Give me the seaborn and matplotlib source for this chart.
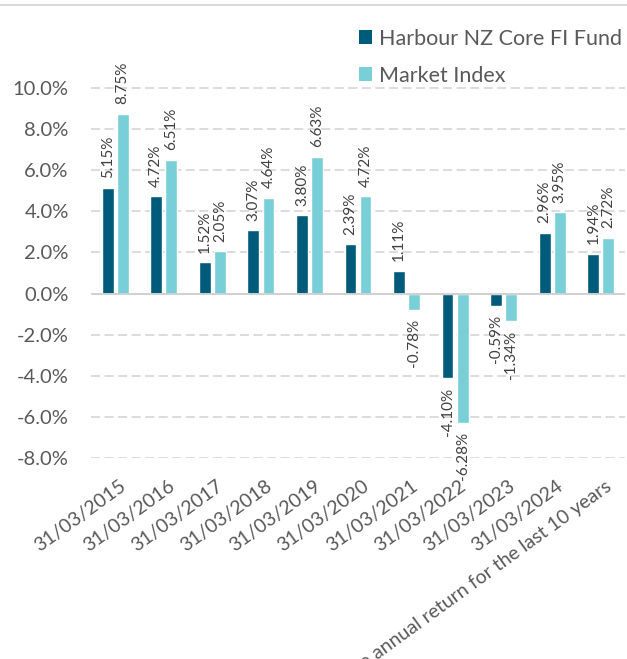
import numpy as np
import pandas as pd
import matplotlib
matplotlib.use("Agg")
import matplotlib.pyplot as plt
from matplotlib.patches import Patch
from matplotlib.lines import Line2D
import matplotlib.transforms as mtransforms
import seaborn as sns

categories = ['31/03/2015', '31/03/2016', '31/03/2017', '31/03/2018', '31/03/2019',
              '31/03/2020', '31/03/2021', '31/03/2022', '31/03/2023', '31/03/2024',
              'Average annual return for the last 10 years']
fund = [5.15, 4.72, 1.52, 3.07, 3.80, 2.39, 1.11, -4.10, -0.59, 2.96, 1.94]
market = [8.75, 6.51, 2.05, 4.64, 6.63, 4.72, -0.78, -6.28, -1.34, 3.95, 2.72]
series_names = ['Harbour NZ Core FI Fund', 'Market Index']
colors = ['#005B7B', '#78CFD7']
yticks = [-8, -6, -4, -2, 0, 2, 4, 6, 8, 10]

df = pd.DataFrame({
    'Date': categories * 2,
    'Series': [series_names[0]] * len(categories) + [series_names[1]] * len(categories),
    'Return': fund + market,
})

sns.set_theme(style='white')
plt.rcParams['font.family'] = ['Lato', 'DejaVu Sans']
text_color = '#595959'

fig = plt.figure(figsize=(6.27, 6.59), dpi=100)
ax = fig.add_axes([0.145, 0.305, 0.852, 0.624])

sns.barplot(data=df, x='Date', y='Return', hue='Series', palette=colors,
            width=0.62, gap=0.22, ax=ax, legend=False, saturation=1)

for cont, vals in zip(ax.containers, [fund, market]):
    ax.bar_label(cont, labels=[f'{v:.2f}%' for v in vals], rotation=90,
                 padding=7, fontsize=11, color='#404040')

ax.set_ylim(-8, 12)
ax.set_xlim(-0.5, len(categories) - 0.5)
ax.set_yticks(yticks)
ax.set_yticklabels([f'{v:.1f}%' for v in yticks], fontsize=14.5, color=text_color)
ax.tick_params(axis='y', length=0, pad=16)
ax.tick_params(axis='x', length=0, pad=14)
for y in yticks:
    if y == 0:
        ax.axhline(0, color='#D0D0D0', lw=1.4, zorder=3)
    else:
        ax.axhline(y, color='#D9D9D9', lw=1.3, ls=(0, (5, 2.5)), zorder=0)

ax.set_xticks(range(len(categories)))
offset = mtransforms.ScaledTranslation(4 / 100, 0, fig.dpi_scale_trans)
ax.set_xticklabels(categories, rotation=36, ha='right', va='top',
                   rotation_mode='anchor', fontsize=14, color=text_color)
for lab in ax.get_xticklabels():
    lab.set_transform(lab.get_transform() + offset)

ax.set_xlabel('')
ax.set_ylabel('')
for s in ax.spines.values():
    s.set_visible(False)

handles = [Patch(facecolor=c, edgecolor='none') for c in colors]
fig.legend(handles, series_names, loc='upper left', bbox_to_anchor=(0.556, 0.973),
           frameon=False, fontsize=15.5, handlelength=0.6, handleheight=0.6,
           handletextpad=0.3, labelspacing=0.8, borderpad=0, labelcolor=text_color)

fig.add_artist(Line2D([0, 1], [1 - 5 / 659, 1 - 5 / 659], transform=fig.transFigure,
                      color='#D9D9D9', lw=1.5))

fig.savefig('out.png', dpi=100)
